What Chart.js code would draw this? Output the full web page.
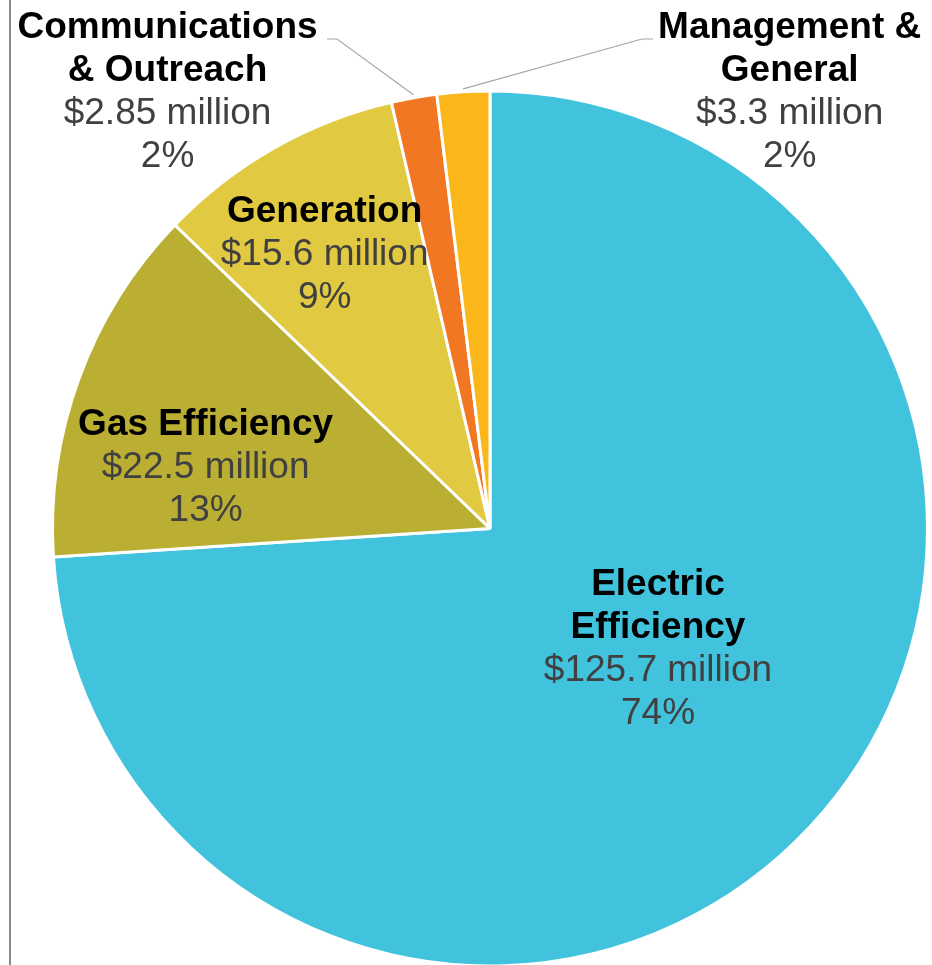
<!DOCTYPE html>
<html>
<head>
<meta charset="utf-8">
<script src="https://cdn.jsdelivr.net/npm/chart.js@4/dist/chart.umd.min.js"></script>
<style>
  html, body { margin: 0; padding: 0; background: #fff; overflow: hidden; }
  #wrap { position: relative; width: 932px; height: 968px; }
  #edge { position: absolute; left: 9px; top: 0; width: 2px; height: 968px; background: #8a8a8a; }
</style>
</head>
<body>
<div id="wrap">
  <div id="edge"></div>
  <canvas id="pieChart"></canvas>
</div>
<script>
// budget categories, in drawing order (clockwise from 12 o'clock)
var categories = [
  ['Electric', 'Efficiency'],
  ['Gas Efficiency'],
  ['Generation'],
  ['Communications', '& Outreach'],
  ['Management &', 'General']
];
var amounts = [125.7, 22.5, 15.6, 2.85, 3.3];   // $ million
var amountLabels = ['$125.7 million', '$22.5 million', '$15.6 million', '$2.85 million', '$3.3 million'];
var percentLabels = ['74%', '13%', '9%', '2%', '2%'];
var sliceColors = ['#41c3dd', '#bbaf33', '#e2c942', '#f17722', '#fbb71a'];

// label placement relative to pie centre, in units of radius
var labelPos = [
  { x: 0.384, y: 0.128 },
  { x: -0.650, y: -0.236 },
  { x: -0.378, y: -0.725 },
  { x: -0.737, y: -1.144, leader: { from: [327, 39], elbow: [337, 39] } },
  { x: 0.685, y: -1.144, leader: { from: [653, 39], elbow: [642, 39] } }
];

var pieLabels = {
  id: 'pieLabels',
  afterDatasetsDraw: function(chart) {
    var ctx = chart.ctx;
    var meta = chart.getDatasetMeta(0);
    var lineH = 43;
    ctx.save();
    meta.data.forEach(function(arc, i) {
      var cx = arc.x, cy = arc.y, r = arc.outerRadius;
      var p = labelPos[i];
      // leader line for the thin slices
      if (p.leader) {
        var mid = (arc.startAngle + arc.endAngle) / 2;
        var ex = cx + Math.cos(mid) * (r + 3);
        var ey = cy + Math.sin(mid) * (r + 3);
        ctx.beginPath();
        ctx.strokeStyle = '#a6a6a6';
        ctx.lineWidth = 1.2;
        ctx.moveTo(p.leader.from[0], p.leader.from[1]);
        ctx.lineTo(p.leader.elbow[0], p.leader.elbow[1]);
        ctx.lineTo(ex, ey);
        ctx.stroke();
      }
      var tx = cx + p.x * r;
      var ty = cy + p.y * r;
      ctx.textAlign = 'center';
      ctx.textBaseline = 'middle';
      ctx.font = 'bold 37px "Liberation Sans", Arial, sans-serif';
      ctx.fillStyle = '#000000';
      categories[i].forEach(function(line) {
        ctx.fillText(line, tx, ty);
        ty += lineH;
      });
      ctx.font = '37px "Liberation Sans", Arial, sans-serif';
      ctx.fillStyle = '#404040';
      ctx.fillText(amountLabels[i], tx, ty);
      ty += lineH;
      ctx.fillText(percentLabels[i], tx, ty);
    });
    ctx.restore();
  }
};

var ctx = document.getElementById('pieChart').getContext('2d');
var pieChart = new Chart(ctx, {
  type: 'pie',
  data: {
    labels: categories.map(function(c) { return c.join(' '); }),
    datasets: [{
      data: amounts,
      backgroundColor: sliceColors,
      borderColor: '#ffffff',
      borderWidth: 3,
      hoverOffset: 0
    }]
  },
  options: {
    responsive: true,
    maintainAspectRatio: false,
    animation: false,
    rotation: 0,
    layout: {
      padding: { left: 51, right: 3, top: 89, bottom: 0 }
    },
    plugins: {
      legend: { display: false },
      tooltip: { enabled: false }
    }
  },
  plugins: [pieLabels]
});
</script>
</body>
</html>
